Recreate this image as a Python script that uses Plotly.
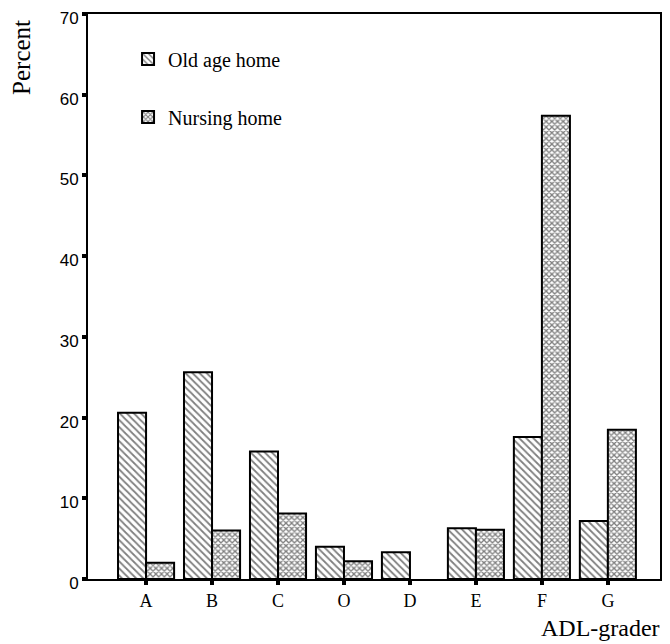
import plotly.graph_objects as go

categories = ["A", "B", "C", "O", "D", "E", "F", "G"]
old_age_home = [20.6, 25.6, 15.8, 4.0, 3.3, 6.3, 17.6, 7.2]
nursing_home = [2.0, 6.0, 8.1, 2.2, None, 6.1, 57.4, 18.5]

serif = "Liberation Serif, Times New Roman, serif"
sans = "Liberation Sans, Arial, sans-serif"

fig = go.Figure()
fig.add_trace(go.Bar(
    x=categories, y=old_age_home, name="Old age home", legendgroup="old",
    marker=dict(color="white", line=dict(color="black", width=2),
                pattern=dict(shape="\\", fgcolor="black", bgcolor="white", size=5, solidity=0.35)),
))
fig.add_trace(go.Bar(
    x=categories, y=nursing_home, name="Nursing home", legendgroup="nursing",
    marker=dict(color="white", line=dict(color="black", width=2),
                pattern=dict(shape="x", fgcolor="black", bgcolor="white", size=4, solidity=0.55)),
))

fig.update_layout(
    width=670, height=644,
    margin=dict(l=80, r=18, t=6, b=73),
    paper_bgcolor="white", plot_bgcolor="white",
    barmode="group", bargap=0.15, bargroupgap=0,
    showlegend=True,
    legend=dict(x=0.07, y=0.955, xanchor="left", yanchor="top",
                font=dict(family=serif, size=20, color="black"),
                tracegroupgap=29, bgcolor="rgba(0,0,0,0)"),
    xaxis=dict(range=[-0.88, 7.79], showline=True, linecolor="black", linewidth=2, mirror=True,
               ticks="outside", ticklen=4, tickwidth=4, tickcolor="black", automargin=False,
               tickfont=dict(family=serif, size=18, color="black"), showgrid=False, zeroline=False),
    yaxis=dict(range=[0, 70], dtick=10, showline=True, linecolor="black", linewidth=2, mirror=True,
               ticks="outside", ticklen=4, tickwidth=4, tickcolor="black", ticklabeloverflow="allow",
               automargin=False, ticklabelshift=4,
               tickfont=dict(family=sans, size=17, color="black"), showgrid=False, zeroline=False),
    annotations=[
        dict(text="Percent", xref="paper", yref="paper", x=-0.1154, y=0.924, textangle=-90,
             showarrow=False, font=dict(family=serif, size=25, color="black"), xanchor="center", yanchor="middle"),
        dict(text="ADL-grader", xref="paper", yref="paper", x=1.0035, y=-0.0867, showarrow=False,
             font=dict(family=serif, size=24, color="black"), xanchor="right", yanchor="middle"),
    ],
)

fig.write_html("out.html")
